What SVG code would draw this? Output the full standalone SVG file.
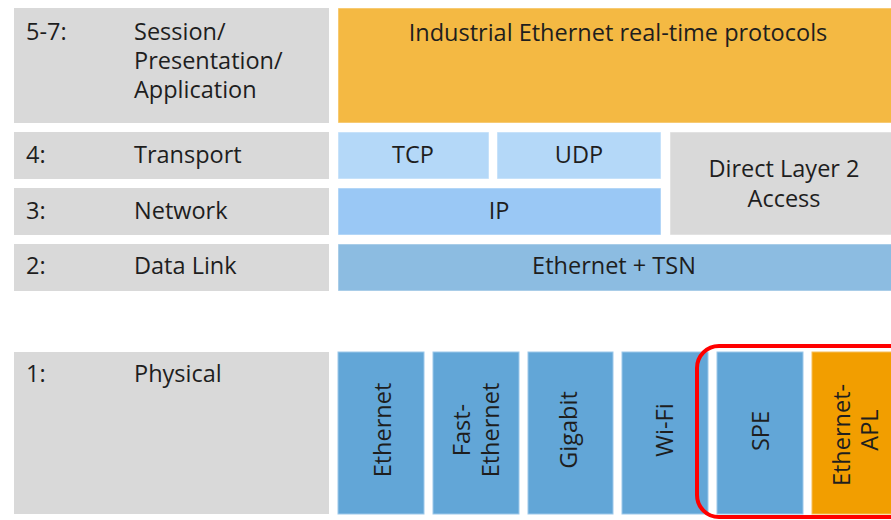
<svg xmlns="http://www.w3.org/2000/svg" width="891" height="520" viewBox="0 0 891 520">
<style>
.lbl{fill:#D9D9D9}
text{font-family:"Open Sans","Noto Sans","Liberation Sans",sans-serif;font-size:23.5px;fill:#1E1E1E}
.c{text-anchor:middle}
.phy{fill:#62A6D7;stroke:#9CC8EA;stroke-width:1}
.box{stroke:#FFFFFF;stroke-opacity:0.5;stroke-width:1}
</style>
<rect width="891" height="520" fill="#FFFFFF"/>
<g id="labels">
<g id="row57"><rect class="lbl" x="14" y="8" width="315" height="115"/>
<text x="26" y="40">5-7:</text><text x="134" y="40">Session/</text><text x="134" y="69">Presentation/</text><text x="134" y="98">Application</text></g>
<g id="row4"><rect class="lbl" x="14" y="132" width="315" height="47"/><text x="26" y="163">4:</text><text x="134" y="163">Transport</text></g>
<g id="row3"><rect class="lbl" x="14" y="188" width="315" height="47"/><text x="26" y="219">3:</text><text x="134" y="219">Network</text></g>
<g id="row2"><rect class="lbl" x="14" y="244" width="315" height="47"/><text x="26" y="274">2:</text><text x="134" y="274">Data Link</text></g>
<g id="row1"><rect class="lbl" x="14" y="352" width="315" height="162"/><text x="26" y="382">1:</text><text x="134" y="382">Physical</text></g>
</g>
<g id="protocols">
<g id="iert"><rect class="box" x="338" y="8" width="560" height="115" fill="#F4B943"/><text class="c" x="618" y="41">Industrial Ethernet real-time protocols</text></g>
<g id="tcp"><rect class="box" x="338" y="132" width="151" height="47" fill="#B4D8F8"/><text class="c" x="413" y="163">TCP</text></g>
<g id="udp"><rect class="box" x="497" y="132" width="164" height="47" fill="#B4D8F8"/><text class="c" x="579" y="163">UDP</text></g>
<g id="direct"><rect class="box" x="670" y="132" width="228" height="103" fill="#D9D9D9"/><text class="c" x="784" y="177">Direct Layer 2</text><text class="c" x="784" y="207">Access</text></g>
<g id="ip"><rect class="box" x="338" y="188" width="323" height="47" fill="#9AC8F5"/><text class="c" x="499" y="219">IP</text></g>
<g id="ethtsn"><rect class="box" x="338" y="244" width="560" height="47" fill="#8CBCE1"/><text class="c" x="614" y="274">Ethernet + TSN</text></g>
</g>
<g id="physical">
<g id="ethernet"><rect class="phy" x="338" y="352" width="86" height="162"/><text class="c" transform="translate(391,430) rotate(-90)">Ethernet</text></g>
<g id="fastethernet"><rect class="phy" x="433" y="352" width="86" height="162"/><text class="c" transform="translate(470,430) rotate(-90)">Fast-</text><text class="c" transform="translate(499,430) rotate(-90)">Ethernet</text></g>
<g id="gigabit"><rect class="phy" x="528" y="352" width="85" height="162"/><text class="c" transform="translate(577,430) rotate(-90)">Gigabit</text></g>
<g id="wifi"><rect class="phy" x="622" y="352" width="86" height="162"/><text class="c" transform="translate(673,430) rotate(-90)">Wi-Fi</text></g>
<g id="spe"><rect class="phy" x="717" y="352" width="86" height="162"/><text class="c" transform="translate(769,431) rotate(-90)">SPE</text></g>
<g id="apl"><rect x="812" y="352" width="86" height="162" fill="#F29E00" stroke="#F6BE5A" stroke-width="1"/><text class="c" transform="translate(850,435) rotate(-90)">Ethernet-</text><text class="c" transform="translate(878,430) rotate(-90)">APL</text></g>
</g>
<g id="connectors">
<rect id="highlight" x="697" y="346" width="240" height="171" rx="22" ry="22" fill="none" stroke="#FF0000" stroke-width="4"/>
</g>
</svg>
